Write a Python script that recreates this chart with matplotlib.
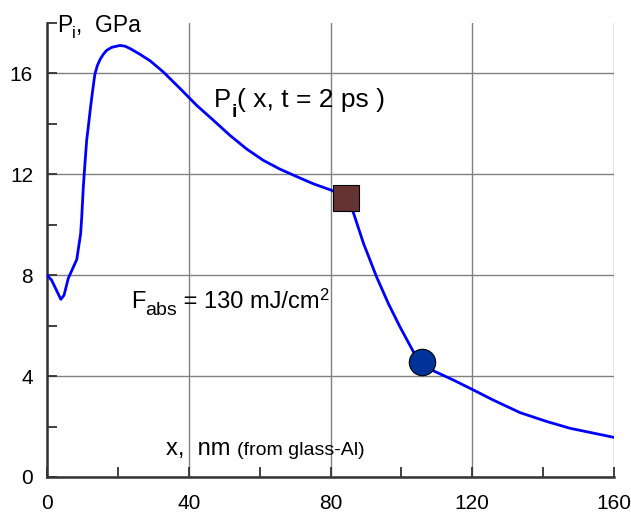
import numpy as np
import matplotlib.pyplot as plt
from matplotlib.ticker import MultipleLocator

plt.rcParams['font.family'] = ['Liberation Sans', 'DejaVu Sans']

# pressure profile P_i(x, t = 2 ps)
x = [0, 1.3, 3.9, 4.8, 6.0, 8.4, 9.5, 9.8, 10.25, 10.7, 11.2, 11.65, 12.3, 12.9,
     13.5, 14.2, 15.0, 15.9, 16.8, 18.2, 20.6, 22.0, 23.4, 26.2, 29.1, 32.8,
     37.5, 42.2, 46.9, 51.6, 56.3, 61.0, 65.7, 70.5, 75.1, 80.3, 84.3, 86.4,
     89.3, 93.0, 96.3, 99.6, 103.4, 105.8, 109.0, 114.7, 120.0, 125.9, 133.5,
     141.0, 147.6, 160.0]
p = [8.0, 7.8, 7.04, 7.2, 7.87, 8.62, 9.65, 10.3, 11.5, 12.4, 13.35, 13.87, 14.67, 15.33,
     15.95, 16.3, 16.55, 16.75, 16.9, 17.02, 17.1, 17.07, 16.98, 16.75, 16.49, 16.05,
     15.4, 14.73, 14.14, 13.54, 13.0, 12.55, 12.2, 11.9, 11.62, 11.36, 11.06, 10.5,
     9.26, 7.93, 6.88, 5.95, 4.96, 4.57, 4.21, 3.84, 3.47, 3.05, 2.55,
     2.2, 1.93, 1.57]

sq_x, sq_y = 84.3, 11.06
ci_x, ci_y = 105.8, 4.57

xticks = [0, 40, 80, 120, 160]
yticks = [0, 4, 8, 12, 16]

W, H = 631, 515
fig = plt.figure(figsize=(W/100, H/100), dpi=100)
ax = fig.add_axes([47/W, 38/H, 567/W, 454.3/H])

ax.plot(x, p, color='#0000ff', linewidth=2.0, zorder=3)
ax.plot(sq_x, sq_y, 's', markersize=19, markerfacecolor='#663333',
        markeredgecolor='black', markeredgewidth=0.8, zorder=4)
ax.plot(ci_x, ci_y, 'o', markersize=19, markerfacecolor='#003399',
        markeredgecolor='black', markeredgewidth=0.8, zorder=4)

ax.set_xlim(0, 160)
ax.set_ylim(0, 18)
ax.set_xticks(xticks)
ax.set_yticks(yticks)
ax.xaxis.set_minor_locator(MultipleLocator(20))
ax.yaxis.set_minor_locator(MultipleLocator(2))
ax.grid(True, which='major', color='#808080', linewidth=1.0)
ax.tick_params(which='both', direction='in', length=7, width=1.3,
               color='#333333', labelsize=15)
ax.tick_params(axis='x', pad=12)
ax.tick_params(axis='y', pad=10)
ax.spines['top'].set_visible(False)
ax.spines['right'].set_visible(False)
for s in ['left', 'bottom']:
    ax.spines[s].set_linewidth(1.8)
    ax.spines[s].set_color('#333333')

renderer = fig.canvas.get_renderer()


def chain(px, py, pieces):
    # pieces: (text, size, baseline shift in px (down +), extra kwargs)
    cur = px
    for s, size, dy, kw in pieces:
        t = fig.text(cur/W, 1 - (py + dy)/H, s, fontsize=size,
                     va='baseline', ha='left', **kw)
        cur = t.get_window_extent(renderer).x1


chain(57, 31.7, [('P', 16.5, 0, {}), ('i', 12, 6.5, {}),
                 (',  GPa', 16.5, 0, {})])

chain(214, 106.7, [('P', 18.5, 0, {}), ('i', 14, 10, {'fontweight': 'bold'}),
                   ('( x, t = 2 ps )', 19, 0, {})])

chain(131, 308, [('F', 17, 0, {}), ('abs', 14, 7, {}),
                 (' = 130 mJ/cm', 17, 0, {}), ('2', 12, -8, {})])

chain(166, 455, [('x,  nm ', 17, 0, {}), ('(from glass-Al)', 14, 0, {})])

fig.savefig('out.png', dpi=100)
